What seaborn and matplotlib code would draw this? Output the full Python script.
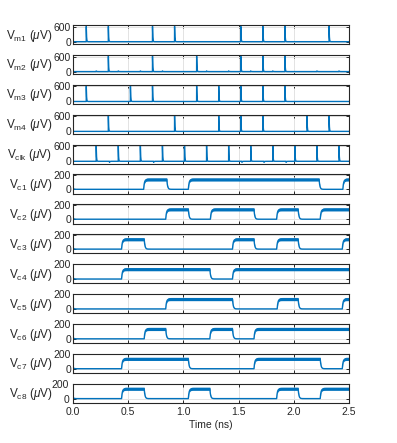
import numpy as np
import pandas as pd
import matplotlib
matplotlib.use("Agg")
import matplotlib.pyplot as plt
import seaborn as sns

# ---- data (ns / uV) ----
t_end = 2.5
spike_peak = 610
clk_spikes = [0.21, 0.41, 0.61, 0.81, 1.01, 1.21, 1.41, 1.61, 1.81, 2.01, 2.21, 2.41]
clk_blips = [0.33, 0.73, 1.53, 1.73, 1.93]
vm1_spikes = [0.12, 0.32, 0.72, 0.92, 1.52, 1.72, 1.92, 2.32]
vm2_spikes = [0.32, 0.72, 1.12, 1.52, 1.72, 1.92]
vm3_spikes = [0.12, 0.52, 0.72, 1.12, 1.32, 1.52, 1.72, 1.92]
vm4_spikes = [0.32, 0.92, 1.32, 1.52, 1.72, 2.12, 2.32]
vm2_blips = [0.21, 0.41, 0.61, 0.81, 1.21, 1.41, 1.61, 1.81, 2.21, 2.41]

vc_high = 135
vc_ripple = 22
vc1_high = [(0.64, 0.85), (1.045, 2.23), (2.445, 2.6)]
vc2_high = [(0.84, 1.045), (1.245, 1.64), (1.845, 2.04), (2.24, 2.6)]
vc3_high = [(0.44, 0.645), (1.445, 1.64), (1.845, 2.04), (2.44, 2.6)]
vc4_high = [(0.44, 1.24), (1.445, 2.6)]
vc5_high = [(0.84, 1.445), (1.85, 2.04), (2.44, 2.6)]
vc6_high = [(0.645, 0.84), (1.24, 1.445), (1.64, 2.6)]
vc7_high = [(0.44, 1.045), (1.64, 2.24), (2.44, 2.6)]
vc8_high = [(0.44, 0.645), (1.045, 1.24), (1.845, 2.04), (2.24, 2.6)]

vm_labels = ["m1", "m2", "m3", "m4", "clk"]
vc_labels = ["c1", "c2", "c3", "c4", "c5", "c6", "c7", "c8"]
x_ticks = [0.0, 0.5, 1.0, 1.5, 2.0, 2.5]

blue = "#0072BD"
t = np.linspace(0, t_end, 5001)
dt = t[1] - t[0]


def spike_trace(times, peak, blips=(), blip_h=0):
    v = np.zeros_like(t)
    for ts in times:
        m = t >= ts
        v[m] += peak * np.exp(-(t[m] - ts) / 0.0025)
    for tb in blips:
        m = t >= tb
        v[m] += blip_h * np.exp(-(t[m] - tb) / 0.004)
    return v


def rc_trace(intervals, level, tau=0.007, v0=18):
    target = np.zeros_like(t)
    for a, b in intervals:
        target[(t >= a) & (t < b)] = level
    v = np.empty_like(t)
    v[0] = v0
    for i in range(1, len(t)):
        v[i] = v[i - 1] + (target[i] - v[i - 1]) * min(dt / tau, 1)
    return v


vm_traces = [
    spike_trace(vm1_spikes, spike_peak),
    spike_trace(vm2_spikes, spike_peak, vm2_blips, 25),
    spike_trace(vm3_spikes, spike_peak),
    spike_trace(vm4_spikes, spike_peak),
    spike_trace(clk_spikes, spike_peak, clk_blips, -40),
]
vc_traces = [rc_trace(iv, vc_high) for iv in
             [vc1_high, vc2_high, vc3_high, vc4_high,
              vc5_high, vc6_high, vc7_high, vc8_high]]

sns.set_theme(style="ticks")
plt.rcParams["font.family"] = ["Liberation Sans", "DejaVu Sans"]
plt.rcParams["mathtext.fontset"] = "custom"
plt.rcParams["mathtext.rm"] = "Liberation Sans"
plt.rcParams["mathtext.it"] = "Liberation Sans:italic"

fig, axes = plt.subplots(13, 1, figsize=(3.97, 4.43), dpi=100, sharex=True)
fig.subplots_adjust(left=0.184, right=0.879, top=0.9436, bottom=0.0903, hspace=0.557)

for i, ax in enumerate(axes):
    if i < 5:
        v = vm_traces[i]
        lab = vm_labels[i]
        ax.set_ylim(-100, 665)
        ax.set_yticks([0, 600])
    else:
        v = vc_traces[i - 5]
        lab = vc_labels[i - 5]
        frac = np.clip(v / vc_high, 0, 1)
        ax.fill_between(t, v - vc_ripple * frac, v + vc_ripple * frac,
                        color=blue, lw=0)
        ax.set_ylim(-60, 203)
        ax.set_yticks([0, 200])
    sns.lineplot(x=t, y=v, ax=ax, color=blue, linewidth=1.0, estimator=None)
    ax.set_xlim(0, t_end)
    ax.set_xticks(x_ticks)
    ax.grid(True, color="#e3e3e3", linewidth=0.7)
    ax.set_axisbelow(True)
    ax.tick_params(direction="in", top=True, right=True, length=2.5,
                   width=0.7, labelsize=7.5, pad=1.5, colors="#262626")
    for s in ax.spines.values():
        s.set_color("#262626")
        s.set_linewidth(0.8)
    ax.set_ylabel(r"V$_{\rm " + lab + r"}$ ($\mu$V)", rotation=0,
                  ha="right", va="center", fontsize=8.5, color="#262626")
    ax.yaxis.set_label_coords(-0.075, 0.45)

axes[-1].set_xticklabels(["0.0", "0.5", "1.0", "1.5", "2.0", "2.5"])
axes[-1].tick_params(labelbottom=True, pad=3)
axes[-1].set_xlabel("Time (ns)", fontsize=7.5, color="#262626", labelpad=2)

fig.savefig("out.png", dpi=100)
